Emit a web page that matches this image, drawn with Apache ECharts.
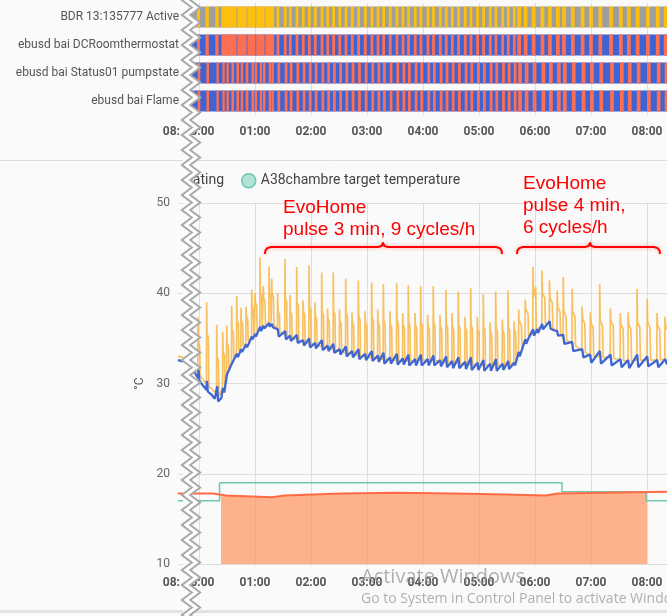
<!DOCTYPE html>
<html><head><meta charset="utf-8">
<script src="https://cdn.jsdelivr.net/npm/echarts@6/dist/echarts.min.js"></script>
<style>html,body{margin:0;padding:0;background:#fafafa}#c{width:667px;height:616px}</style>
</head><body><div id="c"></div><script>
// ---- data (time in minutes after 00:00) ----
const rowNames = ['BDR 13:135777 Active', 'ebusd bai DCRoomthermostat', 'ebusd bai Status01 pumpstate', 'ebusd bai Flame'];
const hourTicks = [0, 60, 120, 180, 240, 300, 360, 420, 480];
const hourLabels = ['00:00', '01:00', '02:00', '03:00', '04:00', '05:00', '06:00', '07:00', '08:00'];

// demand (BDR relay active / room thermostat request) on-intervals
const demandOn = [[-12,-8.5],[-2.2,1],[7,10.5],[17.5,21],
[24,40.2],[41,51],[51.8,60.5],[61.3,70.3],[71.1,80.5],
[83.1,86.1],[90.9,93.9],[96.3,99.3],[103.5,106.5],[110.2,113.2],[116.7,119.7],[123.1,126.1],[130.3,133.3],[136.5,139.5],[142.7,145.7],[149.3,152.3],[156.0,159.0],[162.7,165.7],[169.5,172.5],[176.7,179.7],[183.8,186.8],[190.3,193.3],[196.3,199.3],[203.4,206.4],[210.6,213.6],[217.1,220.1],[223.0,226.0],[230.2,233.2],[236.3,239.3],[243.8,246.8],[249.8,252.8],[257.0,260.0],[263.4,266.4],[269.9,272.9],[276.6,279.6],[283.8,286.8],[289.9,292.9],[297.0,300.0],[303.4,306.4],[310.6,313.6],[316.7,319.7],[323.8,326.8],[329.9,332.9],[336.3,339.3],
[341,345],[348,352],[356.5,360.5],[366,370],[374,378],[382.5,386.5],[389,393],[398.5,402.5],[409,413],[418,422],[428,432],[439.5,443.5],[450,454],[458.5,462.5],[468,472],[479,483],[489.5,493.5],[498,502]];

// burner (pump / flame) on-intervals
const burnOn = [[-11,-8.2],[-1.4,1.4],[7.9,10.7],[18.7,21.2],
[25.1,27.6],[29.4,32],[34.7,37.5],[40.1,42.9],[44.7,47.3],[50.1,52.9],[56.2,58.9],[59.7,62.3],[65.1,67.6],[68.6,71.2],[74.7,77.3],[77.6,80.2],
[84.0,87.0],[91.8,94.8],[97.2,100.2],[104.4,107.4],[111.1,114.1],[117.6,120.6],[124.0,127.0],[131.2,134.2],[137.4,140.4],[143.6,146.6],[150.2,153.2],[156.9,159.9],[163.6,166.6],[170.4,173.4],[177.6,180.6],[184.7,187.7],[191.2,194.2],[197.2,200.2],[204.3,207.3],[211.5,214.5],[218.0,221.0],[223.9,226.9],[231.1,234.1],[237.2,240.2],[244.7,247.7],[250.7,253.7],[257.9,260.9],[264.3,267.3],[270.8,273.8],[277.5,280.5],[284.7,287.7],[290.8,293.8],[297.9,300.9],[304.3,307.3],[311.5,314.5],[317.6,320.6],[324.7,327.7],[330.8,333.8],[337.2,340.2],
[342,346],[349,353],[357.5,361.5],[367,371],[375,379],[383.5,387.5],[390,394],[399.5,403.5],[410,414],[419,423],[429,433],[440.5,444.5],[451,455],[459.5,463.5],[469,473],[480,484],[490.5,494.5],[499,503]];

// boiler flow temperature (orange)
const flowTemp = [[-22.5,33.0],[-15,32.9],
[-10.9,32.7],[-10.7,39.0],[-10.3,37.0],[-8.9,36.6],[-8.4,32.5],
[-1.3,31.2],[-1.1,37.3],[-0.7,34.5],[0.7,34.1],[1.2,30.9],
[8.0,29.9],[8.2,39.0],[8.6,35.5],[10.0,35.1],[10.5,29.7],
[18.8,28.9],[19.0,36.5],[19.4,33.0],[20.8,32.6],[21.3,28.6],
[25.2,29.4],[25.4,35.7],[25.8,33.5],[27.2,33.1],[27.7,30.0],
[29.5,30.9],[29.7,36.4],[30.1,34.5],[31.5,34.1],[32.0,31.4],
[34.8,32.4],[35.0,38.6],[35.4,36.0],[36.8,35.6],[37.3,32.7],
[40.2,33.4],[40.4,39.7],[40.8,37.0],[42.2,36.6],[42.7,33.6],
[44.8,33.9],[45.0,38.4],[45.4,37.0],[46.8,36.6],[47.3,34.1],
[50.2,34.5],[50.4,38.5],[50.8,37.5],[52.2,37.1],[52.7,34.7],
[56.3,35.1],[56.5,40.4],[56.9,38.5],[58.3,38.1],[58.8,35.3],
[59.8,35.5],[60.0,40.0],[60.4,39.0],[61.8,38.6],[62.3,35.7],
[65.2,36.0],[65.4,44.0],[65.8,40.0],[67.2,39.6],[67.7,36.2],
[68.7,36.4],[68.9,40.8],[69.3,39.5],[70.7,39.1],[71.2,36.5],
[74.8,36.7],[75.0,43.0],[75.4,40.0],[76.8,39.6],[77.3,36.8],
[77.7,36.8],[77.9,41.6],[78.3,40.0],[79.7,39.6],[80.2,36.6],
[84.1,35.9],[84.3,40.0],[84.7,38.0],[86.1,37.6],[86.6,35.7],
[91.9,35.4],[92.1,43.8],[92.5,39.5],[93.9,39.1],[94.4,35.3],
[97.3,35.1],[97.5,39.8],[97.9,38.0],[99.3,37.6],[99.8,35.0],
[104.5,34.9],[104.7,42.9],[105.1,39.0],[106.5,38.6],[107.0,34.8],
[111.2,34.6],[111.4,39.2],[111.8,38.0],[113.2,37.6],[113.7,34.5],
[117.7,34.4],[117.9,43.1],[118.3,38.5],[119.7,38.1],[120.2,34.4],
[124.1,34.3],[124.3,39.0],[124.7,37.5],[126.1,37.1],[126.6,34.2],
[131.3,34.1],[131.5,42.3],[131.9,38.0],[133.3,37.6],[133.8,34.1],
[137.5,34.0],[137.7,38.3],[138.1,37.2],[139.5,36.8],[140.0,33.9],
[143.7,33.8],[143.9,42.3],[144.3,38.0],[145.7,37.6],[146.2,33.7],
[150.3,33.6],[150.5,38.2],[150.9,37.0],[152.3,36.6],[152.8,33.5],
[157.0,33.4],[157.2,41.6],[157.6,37.8],[159.0,37.4],[159.5,33.4],
[163.7,33.3],[163.9,37.9],[164.3,36.8],[165.7,36.4],[166.2,33.2],
[170.5,33.1],[170.7,41.4],[171.1,37.5],[172.5,37.1],[173.0,33.1],
[177.7,33.0],[177.9,38.0],[178.3,36.8],[179.7,36.4],[180.2,32.9],
[184.8,32.9],[185.0,41.2],[185.4,37.3],[186.8,36.9],[187.3,32.9],
[191.3,32.8],[191.5,38.2],[191.9,36.8],[193.3,36.4],[193.8,32.7],
[197.3,32.7],[197.5,41.0],[197.9,37.0],[199.3,36.6],[199.8,32.7],
[204.4,32.6],[204.6,38.0],[205.0,36.6],[206.4,36.2],[206.9,32.6],
[211.6,32.6],[211.8,41.1],[212.2,37.0],[213.6,36.6],[214.1,32.5],
[218.1,32.5],[218.3,37.8],[218.7,36.5],[220.1,36.1],[220.6,32.5],
[224.0,32.5],[224.2,40.9],[224.6,36.8],[226.0,36.4],[226.5,32.5],
[231.2,32.5],[231.4,37.8],[231.8,36.5],[233.2,36.1],[233.7,32.5],
[237.3,32.6],[237.5,40.8],[237.9,36.8],[239.3,36.4],[239.8,32.6],
[244.8,32.6],[245.0,37.6],[245.4,36.4],[246.8,36.0],[247.3,32.6],
[250.8,32.6],[251.0,40.8],[251.4,36.8],[252.8,36.4],[253.3,32.5],
[258.0,32.5],[258.2,37.6],[258.6,36.4],[260.0,36.0],[260.5,32.4],
[264.4,32.4],[264.6,40.4],[265.0,36.6],[266.4,36.2],[266.9,32.3],
[270.9,32.3],[271.1,37.8],[271.5,36.3],[272.9,35.9],[273.4,32.3],
[277.6,32.2],[277.8,40.2],[278.2,36.5],[279.6,36.1],[280.1,32.2],
[284.8,32.2],[285.0,37.4],[285.4,36.2],[286.8,35.8],[287.3,32.1],
[290.9,32.1],[291.1,40.6],[291.5,36.5],[292.9,36.1],[293.4,32.1],
[298.0,32.1],[298.2,37.4],[298.6,36.0],[300.0,35.6],[300.5,32.0],
[304.4,32.0],[304.6,39.9],[305.0,36.3],[306.4,35.9],[306.9,32.0],
[311.6,32.0],[311.8,36.8],[312.2,35.8],[313.6,35.4],[314.1,32.0],
[317.7,32.0],[317.9,40.2],[318.3,36.2],[319.7,35.8],[320.2,32.0],
[324.8,32.0],[325.0,37.1],[325.4,35.9],[326.8,35.5],[327.3,32.0],
[330.9,32.1],[331.1,40.3],[331.5,36.3],[332.9,35.9],[333.4,32.1],
[337.3,32.3],[337.5,36.9],[337.9,36.0],[339.3,35.6],[339.8,32.6],
[342.3,33.2],[342.5,38.2],[343.0,37.0],[345.5,36.4],[346.1,33.8],
[349.3,35.0],[349.5,39.3],[350.0,38.3],[352.5,37.7],[353.1,35.3],
[357.6,35.7],[357.8,42.9],[358.3,39.5],[360.8,40.7],[361.4,35.9],
[367.3,36.4],[367.5,42.5],[368.0,40.0],[370.5,39.5],[371.1,36.6],
[375.3,36.6],[375.5,41.4],[376.0,39.5],[378.5,38.9],[379.1,36.2],
[383.6,35.7],[383.8,40.3],[384.3,38.5],[386.8,37.9],[387.4,35.5],
[390.1,35.0],[390.3,41.8],[390.8,38.0],[393.3,37.4],[393.9,34.8],
[399.6,34.4],[399.8,40.5],[400.3,38.0],[402.8,37.4],[403.4,34.2],
[410.2,33.6],[410.4,38.5],[410.9,37.2],[413.4,36.6],[414.0,33.4],
[419.1,33.1],[419.3,37.9],[419.8,36.8],[422.3,36.2],[422.9,33.0],
[429.1,33.0],[429.3,41.0],[429.8,37.0],[432.3,36.4],[432.9,32.9],
[440.6,32.9],[440.8,38.3],[441.3,37.0],[443.8,36.4],[444.4,32.8],
[451.2,32.6],[451.4,37.8],[451.9,36.6],[454.4,36.0],[455.0,32.5],
[459.6,32.5],[459.8,37.9],[460.3,36.6],[462.8,36.0],[463.4,32.5],
[469.1,32.6],[469.3,40.5],[469.8,36.8],[472.3,36.2],[472.9,32.6],
[480.0,32.6],[480.2,39.4],[480.7,36.8],[483.2,36.2],[483.8,32.6],
[490.5,32.6],[490.7,37.8],[491.2,36.5],[493.7,35.9],[494.3,32.6],
[499.1,32.7],[499.3,37.4],[499.8,36.4],[501.5,36.0]];

// boiler return temperature (blue)
const returnTemp = [[-22.5,32.6],[-15,32.4],[-11,32.0],[-10.5,33.2],[-9.5,31.8],[-5,31.3],[-1,30.6],[-0.5,31.5],[0.5,30.3],[4,29.8],[8,29.3],[8.5,30.3],[9.5,29.1],[13,28.8],[17,28.3],[19,28.2],[19.5,29.7],[20.5,28.0],[22,27.8],[24,28.4],[25.5,29.5],[27,29.0],[30,31.0],[31.5,30.9],[35.2,32.2],[36,32.0],[40.5,33.3],[41.5,32.9],[45.2,33.8],[46,33.5],[50.5,34.3],[51.5,34.0],[56.7,35.2],[57.5,34.9],[60.2,35.5],[61,35.2],[65.6,36.3],[66.5,35.8],[69,36.4],[70,36.1],[75.2,36.7],[76,36.3],[78,36.6],[79.5,36.2],[84.5,36.0],[85.5,35.2],[92.3,35.8],[93.2,34.9],[97.7,35.3],[98.5,34.7],[104.9,35.4],[105.8,34.5],[111.6,34.8],[112.5,34.2],[118,35.0],[119,34.0],[124.5,34.5],[125.3,33.9],[131.7,34.8],[132.6,33.7],[137.9,34.2],[138.8,33.6],[144,34.4],[145,33.4],[150.7,33.8],[151.6,33.2],[157.4,34.1],[158.3,33.0],[164,33.6],[165,32.9],[170.9,33.8],[171.8,32.7],[178,33.3],[179,32.6],[185.2,33.6],[186,32.5],[191.7,33.1],[192.6,32.4],[197.7,33.4],[198.6,32.2],[204.8,32.9],[205.7,32.2],[212,33.3],[212.9,32.1],[218.5,32.8],[219.4,32.1],[224.4,33.2],[225.3,32.0],[231.6,32.7],[232.5,32.0],[237.7,33.2],[238.6,32.0],[245.2,32.7],[246.1,32.0],[251.2,33.1],[252.1,32.0],[258.4,32.6],[259.3,31.9],[264.8,33.0],[265.7,31.8],[271.3,32.5],[272.2,31.7],[278,32.9],[278.9,31.7],[285.2,32.4],[286.1,31.6],[291.3,32.9],[292.2,31.5],[298.4,32.3],[299.3,31.5],[304.8,32.6],[305.7,31.4],[312,32.2],[312.9,31.4],[318.1,32.7],[319,31.4],[325.2,32.2],[326.1,31.5],[331.3,32.5],[332.2,31.6],[337.7,32.3],[338.6,32.0],[342.7,33.5],[343.6,33.0],[349.7,34.9],[350.6,34.4],[353,35.0],[358,36.0],[358.9,35.3],[362.3,36.0],[363.2,35.6],[367.7,36.6],[368.6,36.0],[375.7,36.9],[376.6,36.1],[380,35.9],[383.8,35.8],[384.7,35.3],[390.2,35.4],[391.5,34.4],[399.8,34.6],[401,33.6],[410.6,33.8],[411.8,32.9],[419.1,33.2],[420.3,32.3],[429.5,33.6],[430.7,32.2],[440.9,33.2],[442.1,32.0],[451.6,32.7],[452.8,31.8],[459.8,32.6],[461,31.7],[469.5,33.2],[470.7,31.8],[480.2,33.0],[481.4,31.9],[490.9,32.6],[492.1,31.8],[499.5,32.7],[501.5,32.1]];

// climate entity
const targetTemp = [[-22.5,17],[22,19],[389,18],[479,17],[501.5,17]];
const currentTemp = [[-22.5,17.8],[15,17.6],[29,17.4],[78,17.6],[92,17.8],[153,17.9],[212,17.8],[273,17.7],[329,17.6],[371,17.8],[385,18.0],[501.5,18.0]];
const heatingTemp = [[23.6,17.6],[29,17.4],[78,17.6],[92,17.8],[153,17.9],[212,17.8],[273,17.7],[329,17.6],[371,17.8],[385,18.0],[480,18.0]];

// ---- chart ----
const PX_PER_MIN = 56 / 60;
const X0 = 199;           // pixel of 00:00
const RIGHT = 667;
const topLeft = 190, botLeft = 178;
const xMaxV = (RIGHT - X0) / PX_PER_MIN;
const topMin = -(X0 - topLeft) / PX_PER_MIN;
const botMin = -(X0 - botLeft) / PX_PER_MIN;

const rowsOn = [demandOn, demandOn, burnOn, burnOn];
const onColors = ['#fdc00e', '#fe6f52', '#fe6f52', '#fe6f52'];
const offColors = ['#9e9e9e', '#3e63d4', '#3e63d4', '#3e63d4'];
const tl = [];
rowsOn.forEach((arr, r) => {
  tl.push({ value: [topMin, xMaxV, r], itemStyle: { color: offColors[r] } });
  arr.forEach(([s, e]) => tl.push({ value: [s, e, r], itemStyle: { color: onColors[r] } }));
});

const labelFmt = v => { const i = hourTicks.indexOf(Math.round(v)); return i >= 0 ? hourLabels[i] : ''; };
const xAxisCommon = {
  type: 'value', max: xMaxV,
  axisLine: { show: false },
  axisTick: { show: false, customValues: hourTicks },
  splitLine: { show: true, lineStyle: { color: '#dedede', width: 1 } },
  axisLabel: { customValues: hourTicks, formatter: labelFmt, color: '#555', fontSize: 12, fontWeight: 'bold', fontFamily: 'Roboto' }
};

const chart = echarts.init(document.getElementById('c'));

const zz = [];
for (let i = 0, y = -15; y <= 630; i++, y += 7.5) zz.push([i % 2 ? 196 : 186, y]);
const maskPts = [[183, -15]].concat(zz, [[183, 630]]);

const red = '#ff0000';
const annoText = (t, x, y) => ({ type: 'text', z: 110, style: { text: t, x: x, y: y, fill: red, font: '19px "Liberation Sans", Arial, sans-serif', textVerticalAlign: 'middle', shadowBlur: 3, shadowColor: 'rgba(0,0,0,0.25)' } });
const brace = pts => ({ type: 'polyline', z: 110, shape: { points: pts },
  style: { stroke: red, lineWidth: 2, fill: null, lineJoin: 'round', shadowBlur: 4, shadowColor: 'rgba(255,0,0,0.35)' } });

chart.setOption({
  animation: false,
  backgroundColor: '#fafafa',
  grid: [
    { left: topLeft, right: 0, top: 3, height: 112 },
    { left: botLeft, right: 0, top: 203, height: 361 }
  ],
  legend: [
    { left: 241, top: 173, padding: 0, itemWidth: 14, itemHeight: 14, icon: 'circle', selectedMode: false,
      textStyle: { fontSize: 14, color: '#444', fontFamily: 'Roboto' },
      data: [{ name: 'A38chambre target temperature', itemStyle: { color: 'rgba(108,201,177,0.5)', borderColor: '#6cc9b1', borderWidth: 1.5 } }] },
    { right: 443, top: 173, padding: 0, itemWidth: 14, itemHeight: 14, icon: 'circle', selectedMode: false,
      textStyle: { fontSize: 14, color: '#444', fontFamily: 'Roboto' },
      data: ['A38chambre heating'] }
  ],
  xAxis: [
    Object.assign({}, xAxisCommon, { gridIndex: 0, min: topMin, axisLabel: Object.assign({}, xAxisCommon.axisLabel, { margin: 11 }) }),
    Object.assign({}, xAxisCommon, { gridIndex: 1, min: botMin, axisLabel: Object.assign({}, xAxisCommon.axisLabel, { margin: 13 }) })
  ],
  yAxis: [
    { type: 'category', gridIndex: 0, data: rowNames, inverse: true,
      axisLine: { show: false }, axisTick: { show: false }, splitLine: { show: false },
      axisLabel: { color: '#555', fontSize: 12, margin: 11, fontFamily: 'Roboto' } },
    { type: 'value', gridIndex: 1, min: 10, max: 50, interval: 10, name: '°C', nameLocation: 'middle', nameGap: 30,
      nameTextStyle: { color: '#555', fontSize: 12, fontFamily: 'Roboto' },
      axisLine: { show: false }, axisTick: { show: false },
      splitLine: { lineStyle: { color: '#dedede' } },
      axisLabel: { color: '#666', fontSize: 12, margin: 8, fontFamily: 'Roboto' } }
  ],
  series: [
    { type: 'custom', name: 'timeline', xAxisIndex: 0, yAxisIndex: 0, clip: true,
      encode: { x: [0, 1], y: 2 },
      renderItem: (params, api) => {
        const r = api.value(2);
        const a = api.coord([api.value(0), r]);
        const b = api.coord([api.value(1), r]);
        const h = 21;
        const cs = params.coordSys;
        const shape = echarts.graphic.clipRectByRect({ x: a[0], y: a[1] - h / 2, width: b[0] - a[0], height: h },
          { x: cs.x, y: cs.y, width: cs.width, height: cs.height });
        return shape && { type: 'rect', shape: shape, style: { fill: api.visual('color') } };
      },
      data: tl },
    { type: 'line', name: 'A38chambre heating', xAxisIndex: 1, yAxisIndex: 1, step: 'end', showSymbol: false,
      data: heatingTemp, color: '#ff8c55', lineStyle: { width: 0 },
      areaStyle: { color: 'rgba(255,140,80,0.65)', opacity: 1, origin: 'start' } },
    { type: 'line', name: 'A38chambre target temperature', xAxisIndex: 1, yAxisIndex: 1, step: 'end', showSymbol: false,
      data: targetTemp, color: '#6cc9b1', lineStyle: { width: 1.5, color: '#6cc9b1' } },
    { type: 'line', name: 'A38chambre current temperature', xAxisIndex: 1, yAxisIndex: 1, step: 'end', showSymbol: false,
      data: currentTemp, color: '#ff6b45', lineStyle: { width: 2, color: '#ff6b45' } },
    { type: 'line', name: 'ebusd bai FlowTemp', xAxisIndex: 1, yAxisIndex: 1, showSymbol: false,
      data: flowTemp, color: '#f8b43c', lineStyle: { width: 1.7, color: '#f8b33a', opacity: 0.8 } },
    { type: 'line', name: 'ebusd bai ReturnTemp', xAxisIndex: 1, yAxisIndex: 1, showSymbol: false,
      data: returnTemp, color: '#3f66d1', lineStyle: { width: 2.3, color: '#3f66d1' } }
  ],
  graphic: [
    { type: 'line', z: 90, shape: { x1: 0, y1: 160.5, x2: 667, y2: 160.5 }, style: { stroke: '#dcdcdc', lineWidth: 1 } },
    { type: 'rect', z: 90, shape: { x: 0, y: 610, width: 667, height: 3 }, style: { fill: '#e2e2e2' } },
    { type: 'rect', z: 100, shape: { x: 0, y: 165, width: 186, height: 31 }, style: { fill: '#fafafa' } },
    { type: 'polygon', z: 100, shape: { points: maskPts }, style: { fill: '#fafafa' } },
    { type: 'text', z: 100, style: { text: '08:', x: 180, y: 132, fill: '#555', font: 'bold 12px Roboto', textAlign: 'right', textVerticalAlign: 'middle' } },
    { type: 'text', z: 100, style: { text: '08:', x: 180, y: 583, fill: '#555', font: 'bold 12px Roboto', textAlign: 'right', textVerticalAlign: 'middle' } },
    { type: 'polyline', z: 101, shape: { points: zz }, style: { stroke: '#a9a9a9', lineWidth: 7, fill: null, lineJoin: 'miter' } },
    { type: 'polyline', z: 102, shape: { points: zz }, style: { stroke: '#ffffff', lineWidth: 3, fill: null, lineJoin: 'miter' } },
    annoText('EvoHome', 283, 208),
    annoText('pulse 3 min, 9 cycles/h', 283, 230),
    annoText('EvoHome', 523, 184),
    annoText('pulse 4 min,', 523, 206),
    annoText('6 cycles/h', 523, 228),
    brace([[265,254],[265.4,250.6],[267.3,248.1],[271,247],[378,247],[381.6,246],[383,243],[384.4,246],[388,247],[496,247],[499.7,248.1],[501.6,250.6],[502,254]]),
    brace([[517,254],[517.4,250.6],[519.3,248.1],[523,247],[585,247],[588.6,246],[590,243],[591.4,246],[595,247],[654,247],[657.7,248.1],[659.6,250.6],[660,254]]),
    { type: 'text', z: 120, style: { text: 'Activate Windows', x: 361, y: 577, fill: 'rgba(150,150,150,0.75)', font: '20px "Open Sans", sans-serif', textVerticalAlign: 'middle' } },
    { type: 'text', z: 120, style: { text: 'Go to System in Control Panel to activate Windows.', x: 361, y: 599, fill: 'rgba(150,150,150,0.75)', font: '14px "Open Sans", sans-serif', textVerticalAlign: 'middle' } }
  ]
});
</script></body></html>
